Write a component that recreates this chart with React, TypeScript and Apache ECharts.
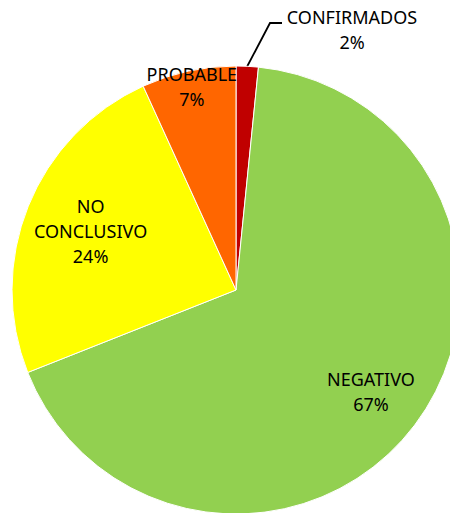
import React, { useEffect, useRef } from "react";
import * as echarts from "echarts";

// Resultados por categoría (porcentaje del total)
const categories = ["CONFIRMADOS", "NEGATIVO", "NO CONCLUSIVO", "PROBABLE"];
const values = [1.6, 67.4, 24.2, 6.8];
const sliceColors = ["#C00000", "#92D050", "#FFFF00", "#FF6600"];

const CX = 236;
const CY = 290;
const R = 224;
// how far out (as a share of the radius) each inner label sits
const labelRadius = [0, 0.755, 0.7, 0.93];

function midAngle(index: number): number {
  const total = values.reduce((a, b) => a + b, 0);
  let before = 0;
  for (let i = 0; i < index; i++) before += values[i];
  return ((before + values[index] / 2) / total) * Math.PI * 2;
}

export default function App() {
  const ref = useRef<HTMLDivElement>(null);

  useEffect(() => {
    if (!ref.current) return;
    const chart = echarts.init(ref.current, undefined, { renderer: "svg" });
    chart.setOption({
      animation: false,
      backgroundColor: "#ffffff",
      textStyle: { fontFamily: "Noto Sans" },
      series: [
        {
          type: "pie",
          center: [CX, CY],
          radius: [0, R],
          startAngle: 90,
          clockwise: true,
          avoidLabelOverlap: false,
          itemStyle: { borderColor: "#ffffff", borderWidth: 1 },
          label: {
            show: true,
            color: "#000000",
            fontFamily: "Noto Sans",
            fontSize: 18,
            lineHeight: 25,
            align: "center",
            formatter: (p: any) =>
              `${String(p.name).replace(" ", "\n")}\n${Math.round(p.percent)}%`,
          },
          labelLine: {
            show: true,
            length: 30,
            length2: 12,
            lineStyle: { color: "#000000", width: 1.8 },
          },
          labelLayout: (params: any) => {
            const i = params.dataIndex;
            const a = midAngle(i);
            if (i === 0) {
              const sx = CX + R * Math.sin(a);
              const sy = CY - R * Math.cos(a);
              return {
                x: 352,
                y: 29,
                align: "center",
                verticalAlign: "middle",
                labelLinePoints: [
                  [sx, sy],
                  [270, 23],
                  [282, 23],
                ],
              };
            }
            return {
              x: CX + labelRadius[i] * R * Math.sin(a),
              y: CY - labelRadius[i] * R * Math.cos(a),
              align: "center",
              verticalAlign: "middle",
            };
          },
          data: categories.map((name, i) => ({
            name,
            value: values[i],
            itemStyle: { color: sliceColors[i] },
            label: { position: i === 0 ? "outside" : "inside" },
            labelLine: { show: i === 0 },
          })),
        },
      ],
    });
    return () => chart.dispose();
  }, []);

  return (
    <div
      ref={ref}
      style={{ position: "fixed", left: 0, top: 0, width: 450, height: 513 }}
    />
  );
}
